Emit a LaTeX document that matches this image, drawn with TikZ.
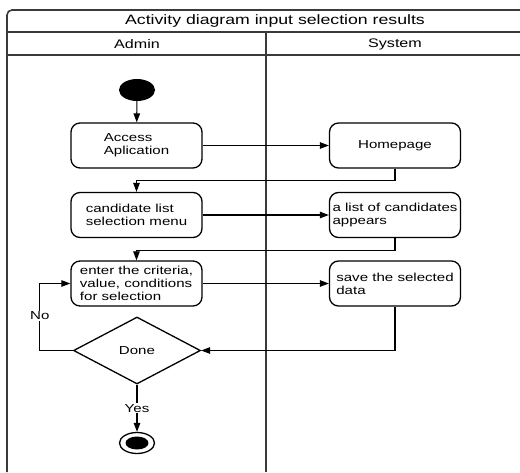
\documentclass[tikz,border=0pt]{standalone}
\usepackage{fontspec}
\setmainfont[FakeStretch=1.3]{Liberation Sans}
\usepackage{tikz}
\usetikzlibrary{arrows.meta, shapes.geometric, calc}
\definecolor{frame}{HTML}{3A3A3A}

\begin{document}
\begin{tikzpicture}[x=1pt, y=-1pt,
  act/.style={draw, line width=1.3pt, rounded corners=9pt, minimum width=131pt,
    minimum height=45pt, align=left, inner sep=2pt,
    font=\fontsize{11.6}{13}\selectfont},
  arr/.style={line width=1.1pt, -{Triangle[length=9pt, width=6.5pt]}},
  lbl/.style={fill=white, inner sep=1pt, font=\fontsize{11.6}{13}\selectfont}]
  \useasboundingbox (0,0) rectangle (520,472);
  % Swimlanes
  \begin{scope}[frame, line width=1.6pt]
    \draw (520,10) -- (12,10) to[out=180, in=90] (7,15) -- (7,472);
    \draw (7,32) -- (520,32);
    \draw (7,55) -- (520,55);
    \draw (266,32) -- (266,472);
    \node[black, font=\fontsize{13.6}{15}\selectfont] (title) at (275,21) {Activity diagram input selection results};
    \node[black, font=\fontsize{12.4}{14}\selectfont] (admin) at (137,44) {Admin};
    \node[black, font=\fontsize{12.4}{14}\selectfont] (system) at (395,44) {System};
  \end{scope}
  % Admin lane
  \node[ellipse, fill=black, minimum width=36pt, minimum height=22pt, inner sep=0pt] (start) at (137,90) {};
  \node[act] (acc) at (136.5,145.5) {Access\\Aplication};
  \node[act] (cand) at (136.5,215) {candidate list\\selection menu};
  \node[act] (enter) at (136.5,283.5) {enter the criteria,\\value, conditions\\for selection};
  \node[diamond, draw, line width=1.3pt, minimum width=127pt, minimum height=67pt,
    inner sep=0pt, font=\fontsize{11.6}{13}\selectfont] (done) at (137,350.5) {Done};
  \node[ellipse, draw, line width=1.3pt, minimum width=35pt, minimum height=21pt, inner sep=0pt] (end) at (137,443) {};
  \node[ellipse, fill=black, minimum width=23pt, minimum height=13pt, inner sep=0pt] (endin) at (end) {};
  % System lane
  \node[act] (home) at (395,145.5) {Homepage};
  \node[act] (list) at (395,215) {a list of candidates\\appears};
  \node[act] (save) at (395,283.5) {save the selected\\data};
  % Flow
  \draw[arr] (start) -- (acc);
  \draw[arr] (acc) -- (home);
  \draw[arr] (home.south) -- ++(0,12) -| (cand.north);
  \draw[arr] (cand) -- (list);
  \draw[arr] (list.south) -- ++(0,12) -| (enter.north);
  \draw[arr] (enter) -- (save);
  \draw[arr] (save.south) |- (done.east);
  \draw[arr] (done.west) -- ++(-33,0) coordinate (nob) |- (enter.west);
  \node[lbl] (no) at (nob |- 0,316) {No};
  \draw[arr] (done.south) -- node[lbl] (yes) {Yes} (end.north);
\end{tikzpicture}
\end{document}
